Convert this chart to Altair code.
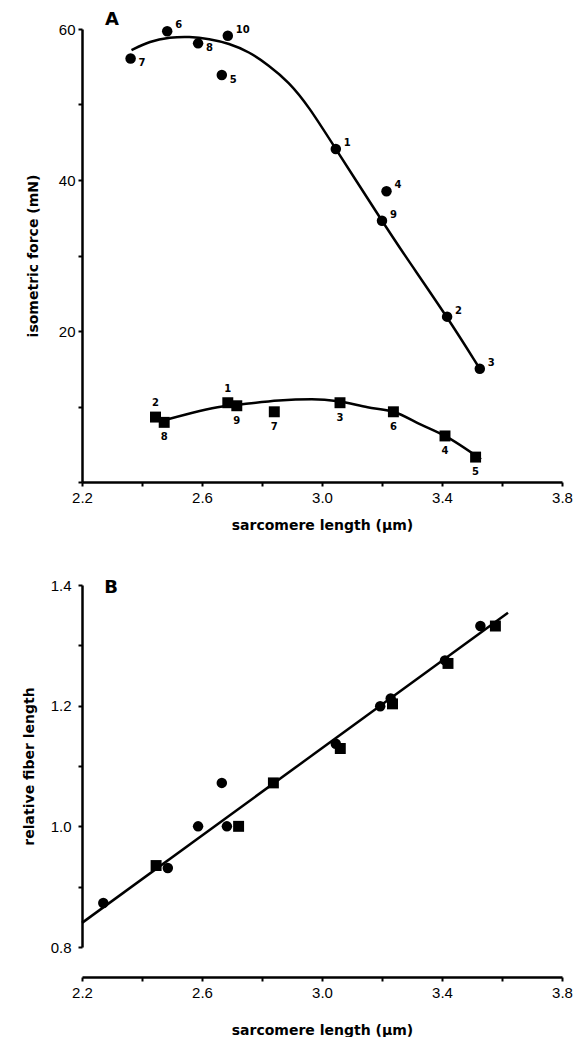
import altair as alt
import pandas as pd

# ---------------- Panel A data ----------------
circ_id = ["7", "6", "8", "5", "10", "1", "4", "9", "2", "3"]
circ_sl = [2.362, 2.484, 2.587, 2.666, 2.686, 3.046, 3.215, 3.200, 3.417, 3.526]
circ_force = [56.1, 59.7, 58.1, 53.9, 59.1, 44.1, 38.5, 34.6, 21.9, 15.0]
circ_lab = ["lr", "ur", "lr", "lr", "ur", "ur", "ur", "ur", "ur", "ur"]

sq_id = ["2", "8", "1", "9", "7", "3", "6", "4", "5"]
sq_sl = [2.445, 2.474, 2.686, 2.716, 2.841, 3.060, 3.238, 3.410, 3.512]
sq_force = [8.6, 7.9, 10.5, 10.1, 9.3, 10.5, 9.3, 6.1, 3.3]
sq_lab = ["a", "b", "a", "b", "b", "b", "b", "b", "b"]

# smooth curves
cc_sl = [2.365, 2.426, 2.492, 2.558, 2.624, 2.690, 2.756, 2.822, 2.889, 2.955,
         3.046, 3.200, 3.264, 3.417, 3.526]
cc_f = [57.2, 58.4, 58.9, 59.0, 58.7, 58.1, 57.0, 55.2, 53.0, 49.8,
        44.1, 34.6, 30.7, 21.9, 15.0]

sc_sl = [2.486, 2.668, 2.734, 2.856, 2.966, 3.054, 3.152, 3.238, 3.330, 3.410, 3.530]
sc_f = [8.3, 10.0, 10.3, 10.8, 10.95, 10.7, 9.9, 9.3, 7.6, 6.1, 3.0]

# ---------------- Panel B data ----------------
b_circ_sl = [2.271, 2.486, 2.587, 2.666, 2.683, 3.046, 3.194, 3.229, 3.410, 3.528]
b_circ_len = [0.873, 0.931, 1.000, 1.072, 1.000, 1.137, 1.199, 1.212, 1.275, 1.332]
b_sq_sl = [2.447, 2.722, 2.838, 3.061, 3.235, 3.420, 3.578]
b_sq_len = [0.935, 1.000, 1.072, 1.129, 1.203, 1.270, 1.332]
b_line_sl = [2.20, 3.62]
b_line_len = [0.840, 1.354]

x_ticks = [2.2, 2.4, 2.6, 2.8, 3.0, 3.2, 3.4, 3.6, 3.8]
x_labels = ["2.2", "2.6", "3.0", "3.4", "3.8"]
ya_ticks = [0, 10, 20, 30, 40, 50, 60]
ya_labels = ["20", "40", "60"]
yb_ticks = [0.8, 0.9, 1.0, 1.1, 1.2, 1.3, 1.4]
yb_labels = ["0.8", "1.0", "1.2", "1.4"]

circ = pd.DataFrame({"id": circ_id, "sl": circ_sl, "f": circ_force, "pos": circ_lab})
sq = pd.DataFrame({"id": sq_id, "sl": sq_sl, "f": sq_force, "pos": sq_lab})
cc = pd.DataFrame({"sl": cc_sl, "f": cc_f})
sc = pd.DataFrame({"sl": sc_sl, "f": sc_f})
bc = pd.DataFrame({"sl": b_circ_sl, "v": b_circ_len})
bs = pd.DataFrame({"sl": b_sq_sl, "v": b_sq_len})
bl = pd.DataFrame({"sl": b_line_sl, "v": b_line_len})


def label_expr(labels, fmt):
    arr = "[" + ",".join("'%s'" % l for l in labels) + "]"
    return "indexof(%s, format(datum.value, '%s')) >= 0 ? format(datum.value, '%s') : ''" % (arr, fmt, fmt)


x_title = "sarcomere length (\u03bcm)"

xa = alt.X("sl:Q", scale=alt.Scale(domain=[2.2, 3.8], nice=False, zero=False),
           axis=alt.Axis(values=x_ticks, labelExpr=label_expr(x_labels, ".1f"),
                         title=x_title, labelPadding=4, titlePadding=13))
ya = alt.Y("f:Q", scale=alt.Scale(domain=[0, 60], nice=False),
           axis=alt.Axis(values=ya_ticks, labelExpr=label_expr(ya_labels, "d"),
                         title="isometric force (mN)", labelPadding=3, titlePadding=18))

ca = alt.Chart(cc).mark_line(color="black", strokeWidth=2.5, interpolate="basis").encode(x=xa, y=ya)
sa = alt.Chart(sc).mark_line(color="black", strokeWidth=2.5, interpolate="monotone").encode(x=xa, y=ya)
pc = alt.Chart(circ).mark_point(shape="circle", filled=True, color="black", size=110, opacity=1).encode(x=xa, y=ya)
ps = alt.Chart(sq).mark_point(shape="square", filled=True, color="black", size=120, opacity=1).encode(x=xa, y=ya)

lab_style = dict(font="DejaVu Sans", fontWeight="bold", fontSize=10, color="black")
t_ur = alt.Chart(circ).transform_filter("datum.pos == 'ur'").mark_text(
    align="left", baseline="middle", dx=8, dy=-6, **lab_style).encode(x=xa, y=ya, text="id:N")
t_lr = alt.Chart(circ).transform_filter("datum.pos == 'lr'").mark_text(
    align="left", baseline="middle", dx=8, dy=5, **lab_style).encode(x=xa, y=ya, text="id:N")
t_a = alt.Chart(sq).transform_filter("datum.pos == 'a'").mark_text(
    align="center", baseline="middle", dx=0, dy=-14, **lab_style).encode(x=xa, y=ya, text="id:N")
t_b = alt.Chart(sq).transform_filter("datum.pos == 'b'").mark_text(
    align="center", baseline="middle", dx=0, dy=15, **lab_style).encode(x=xa, y=ya, text="id:N")

panel_a_letter = alt.Chart(pd.DataFrame({"t": ["A"]})).mark_text(
    font="DejaVu Sans", fontWeight="bold", fontSize=18, color="black", align="center", baseline="middle"
).encode(text="t:N", x=alt.value(30), y=alt.value(-9))

panel_a = alt.layer(ca, sa, pc, ps, t_ur, t_lr, t_a, t_b, panel_a_letter).properties(width=480, height=453)

# ---------------- Panel B ----------------
xb = alt.X("sl:Q", scale=alt.Scale(domain=[2.2, 3.8], nice=False, zero=False),
           axis=alt.Axis(values=x_ticks, labelExpr=label_expr(x_labels, ".1f"),
                         title=x_title, offset=30, labelPadding=4, titlePadding=23))
yb = alt.Y("v:Q", scale=alt.Scale(domain=[0.8, 1.4], nice=False, zero=False),
           axis=alt.Axis(values=yb_ticks, labelExpr=label_expr(yb_labels, ".1f"),
                         title="relative fiber length", labelPadding=7, titlePadding=14))

lb = alt.Chart(bl).mark_line(color="black", strokeWidth=2.5).encode(x=xb, y=yb)
pbc = alt.Chart(bc).mark_point(shape="circle", filled=True, color="black", size=110, opacity=1).encode(x=xb, y=yb)
pbs = alt.Chart(bs).mark_point(shape="square", filled=True, color="black", size=120, opacity=1).encode(x=xb, y=yb)
panel_b_letter = alt.Chart(pd.DataFrame({"t": ["B"]})).mark_text(
    font="DejaVu Sans", fontWeight="bold", fontSize=18, color="black", align="center", baseline="middle"
).encode(text="t:N", x=alt.value(29), y=alt.value(3))

panel_b = alt.layer(lb, pbc, pbs, panel_b_letter).properties(width=480, height=362)

chart = alt.vconcat(panel_a, panel_b, spacing=46).properties(
    padding={"left": 14, "top": 3, "right": 0, "bottom": 0},
    background="white"
).configure_view(stroke=None).configure_axis(
    grid=False, domainColor="black", domainWidth=2.5, tickColor="black", tickWidth=2, tickSize=4,
    labelFont="Liberation Sans", labelFontSize=15, labelColor="black", labelFlush=False,
    titleFont="DejaVu Sans", titleFontSize=14, titleFontWeight="bold", titleColor="black"
)

chart.save("out.html", embed_options={"renderer": "svg", "actions": False})
